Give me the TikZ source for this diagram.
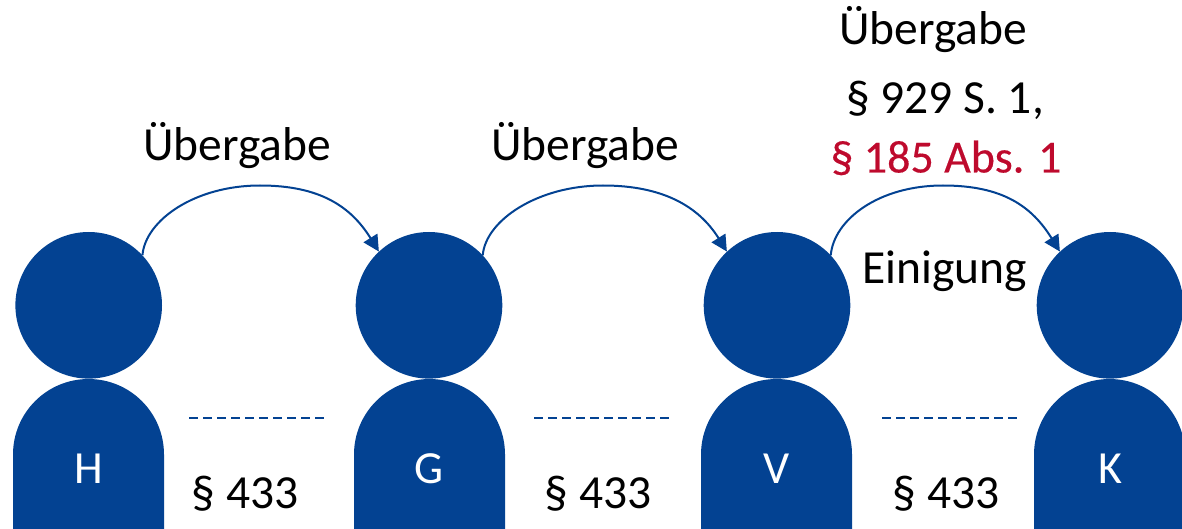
\documentclass[tikz,border=0pt]{standalone}
\usepackage{fontspec}
\setmainfont{Carlito}
\newfontfamily\redfont[FakeBold=0.35]{Carlito}
\usetikzlibrary{arrows.meta}
\definecolor{uniblue}{RGB}{3,66,146}
\definecolor{unired}{RGB}{190,10,45}
\tikzset{
  head/.style={circle,fill=uniblue,draw=none,inner sep=0pt,minimum size=146.6pt},
  bodylabel/.style={text=white,anchor=base,inner sep=0pt,font=\fontsize{46}{46}\selectfont},
  lbl/.style={text=black,anchor=base,inner sep=0pt,font=\fontsize{47.5}{47.5}\selectfont},
  redlbl/.style={text=unired,anchor=base,inner sep=0pt,font=\redfont\fontsize{46}{46}\selectfont},
  body/.style={fill=uniblue,draw=none},
  flow/.style={draw=uniblue,line width=2pt,-{Triangle[length=16pt,width=16pt]}},
  contract/.style={draw=uniblue,line width=1.6pt,dash pattern=on 9pt off 5pt},
}
\begin{document}
\begin{tikzpicture}[x=1pt,y=-1pt]
\useasboundingbox (0,0) rectangle (1182,529);
\clip (0,0) rectangle (1182,529);
% bodies
\foreach \c in {88.5,429.5,776.5,1109.5}{
  \fill[body] (\c-75.5,535) -- (\c-75.5,454.5) arc[start angle=180,end angle=0,radius=75.5pt] -- (\c+75.5,535) -- cycle;
}
% heads
\node[head] (h) at (88.7,305.3) {};
\node[head] (g) at (429,305.3) {};
\node[head] (v) at (777,305.3) {};
\node[head] (k) at (1110,305.3) {};
% body labels
\node[bodylabel] (lh) at (88.5,483) {H};
\node[bodylabel] (lg) at (429,483) {G};
\node[bodylabel] (lv) at (777,483) {V};
\node[bodylabel] (lk) at (1110,483) {K};
% arrow apexes
\coordinate (a1) at (260,185.5);
\coordinate (a2) at (603,185.5);
\coordinate (a3) at (943,185.5);
\draw[flow] (h.43) .. controls +(3,-35) and +(-65,0) .. (a1) .. controls +(60,0) and +(-28,-45) .. (g.133);
\draw[flow] (g.43) .. controls +(3,-35) and +(-65,0) .. (a2) .. controls +(60,0) and +(-28,-45) .. (v.133);
\draw[flow] (v.43) .. controls +(3,-35) and +(-65,0) .. (a3) .. controls +(60,0) and +(-28,-45) .. (k.133);
% dashed
\coordinate (d1a) at (189,418); \coordinate (d1b) at (324,418);
\coordinate (d2a) at (534,418); \coordinate (d2b) at (670,418);
\coordinate (d3a) at (882,418); \coordinate (d3b) at (1018,418);
\draw[contract] (d1a) -- (d1b);
\draw[contract] (d2a) -- (d2b);
\draw[contract] (d3a) -- (d3b);
% labels
\node[lbl] (u1) at (237,161) {Übergabe};
\node[lbl] (u2) at (585,161) {Übergabe};
\node[lbl] (u3) at (933,44.5) {Übergabe};
\node[lbl] (p1) at (945,114) {§ 929 S. 1,};
\node[redlbl] (p2) at (946,172.5) {§ 185 Abs. 1};
\node[lbl] (e) at (944.5,283.5) {Einigung};
\node[lbl] (s1) at (245,508) {§ 433};
\node[lbl] (s2) at (598,508) {§ 433};
\node[lbl] (s3) at (946,508) {§ 433};
\end{tikzpicture}
\end{document}
